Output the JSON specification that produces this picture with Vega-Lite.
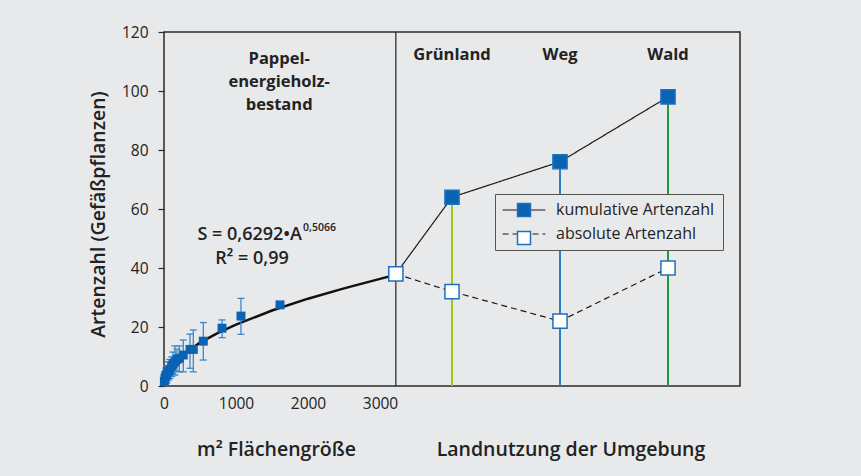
{
  "$schema": "https://vega.github.io/schema/vega-lite/v6.json",
  "width": 576,
  "height": 354,
  "autosize": {"type": "none"},
  "padding": {"left": 164, "top": 32, "right": 121, "bottom": 90},
  "background": "#e8e9eb",
  "config": {
    "view": {"stroke": "#2a2a2a", "strokeWidth": 1.5},
    "font": "Open Sans",
    "axis": {"grid": false, "domain": false, "labelFont": "Open Sans", "labelFontSize": 15.5, "labelColor": "#222222", "titleFont": "Open Sans", "titleColor": "#222222", "tickColor": "#2a2a2a", "tickWidth": 1.2}
  },
  "title": {"text": "Landnutzung der Umgebung", "orient": "bottom", "anchor": "middle", "frame": "group", "dx": 119, "offset": -3, "baseline": "alphabetic", "fontSize": 19.5, "font": "Open Sans", "fontWeight": 600, "color": "#222222"},
  "datasets": {
    "curve": [
      {"A": 0, "S": 0}, {"A": 5, "S": 1.4}, {"A": 10, "S": 2}, {"A": 20, "S": 2.9}, {"A": 50, "S": 4.6},
      {"A": 100, "S": 6.5}, {"A": 200, "S": 9.2}, {"A": 300, "S": 11.3}, {"A": 500, "S": 14.7},
      {"A": 750, "S": 18}, {"A": 1000, "S": 20.8}, {"A": 1500, "S": 25.6}, {"A": 2000, "S": 29.6},
      {"A": 2500, "S": 33.1}, {"A": 3000, "S": 36.3}, {"A": 3220, "S": 37.7}
    ],
    "cluster": [
      {"A": 5, "S": 1.5, "lo": 0.5, "hi": 3},
      {"A": 14, "S": 2.6, "lo": 0.8, "hi": 4.5},
      {"A": 25, "S": 3.5, "lo": 1.5, "hi": 6},
      {"A": 40, "S": 4, "lo": 1, "hi": 7},
      {"A": 60, "S": 4.9, "lo": 2, "hi": 8.2},
      {"A": 80, "S": 5.5, "lo": 2.5, "hi": 9},
      {"A": 107, "S": 6.8, "lo": 3.2, "hi": 9.9},
      {"A": 125, "S": 7.5, "lo": 4, "hi": 11.5},
      {"A": 153, "S": 8.2, "lo": 3.7, "hi": 13.6},
      {"A": 180, "S": 9, "lo": 5, "hi": 12.5},
      {"A": 213, "S": 9.4, "lo": 4.8, "hi": 13.6},
      {"A": 268, "S": 10.5, "lo": 4.8, "hi": 15.6},
      {"A": 361, "S": 12.4, "lo": 6, "hi": 17.6},
      {"A": 407, "S": 12.4, "lo": 4.8, "hi": 19},
      {"A": 546, "S": 15.2, "lo": 8.8, "hi": 21.5},
      {"A": 806, "S": 19.6, "lo": 16.4, "hi": 22.4},
      {"A": 1069, "S": 23.7, "lo": 17.5, "hi": 29.7},
      {"A": 1611, "S": 27.5, "lo": 26.9, "hi": 28.1}
    ],
    "linien": [
      {"A": 3220, "S": 38, "Reihe": "kumulative Artenzahl"},
      {"A": 4000, "S": 64, "Reihe": "kumulative Artenzahl"},
      {"A": 5500, "S": 76, "Reihe": "kumulative Artenzahl"},
      {"A": 7000, "S": 98, "Reihe": "kumulative Artenzahl"},
      {"A": 3220, "S": 38, "Reihe": "absolute Artenzahl"},
      {"A": 4000, "S": 32, "Reihe": "absolute Artenzahl"},
      {"A": 5500, "S": 22, "Reihe": "absolute Artenzahl"},
      {"A": 7000, "S": 40, "Reihe": "absolute Artenzahl"}
    ],
    "quadrate": [
      {"A": 3220, "S": 38, "Serie": "absolute Artenzahl"},
      {"A": 4000, "S": 32, "Serie": "absolute Artenzahl"},
      {"A": 5500, "S": 22, "Serie": "absolute Artenzahl"},
      {"A": 7000, "S": 40, "Serie": "absolute Artenzahl"},
      {"A": 4000, "S": 64, "Serie": "kumulative Artenzahl"},
      {"A": 5500, "S": 76, "Serie": "kumulative Artenzahl"},
      {"A": 7000, "S": 98, "Serie": "kumulative Artenzahl"}
    ],
    "sites": [
      {"Nutzung": "Grünland", "A": 4000, "S": 64},
      {"Nutzung": "Weg", "A": 5500, "S": 76},
      {"Nutzung": "Wald", "A": 7000, "S": 98}
    ]
  },
  "layer": [
    {
      "data": {"name": "curve"},
      "mark": {"type": "line", "color": "#111111", "strokeWidth": 2.5},
      "encoding": {
        "x": {"field": "A", "type": "quantitative",
          "scale": {"domain": [0, 8000], "nice": false, "zero": false},
          "axis": {"values": [0, 1000, 2000, 3000], "format": "d", "ticks": false, "labelPadding": 10, "labelFlush": false,
            "title": "m² Flächengröße", "titleX": 112, "titleY": 69, "titleBaseline": "alphabetic", "titleAlign": "center",
            "titleFontSize": 19.5, "titleFontWeight": 600}},
        "y": {"field": "S", "type": "quantitative",
          "scale": {"domain": [0, 120], "nice": false},
          "axis": {"values": [0, 20, 40, 60, 80, 100, 120], "tickSize": 6, "labelPadding": 10,
            "title": "Artenzahl (Gefäßpflanzen)", "titleFontSize": 19.5, "titleFontWeight": 600,
            "titleX": -66, "titleY": 182, "titleAngle": -90, "titleAlign": "center", "titleBaseline": "middle"}}
      }
    },
    {
      "data": {"values": [{"A": 3220}]},
      "mark": {"type": "rule", "color": "#222222", "strokeWidth": 1.2},
      "encoding": {"x": {"field": "A", "type": "quantitative"}}
    },
    {
      "data": {"name": "sites"},
      "mark": {"type": "rule", "strokeWidth": 2},
      "encoding": {
        "x": {"field": "A", "type": "quantitative"},
        "y": {"field": "S", "type": "quantitative"},
        "y2": {"datum": 0},
        "color": {"field": "Nutzung", "type": "nominal",
          "scale": {"domain": ["Grünland", "Weg", "Wald"], "range": ["#a6c31c", "#2f7fc5", "#1e9a3e"]},
          "legend": null}
      }
    },
    {
      "data": {"name": "linien"},
      "mark": {"type": "line", "color": "#1a1a1a", "strokeWidth": 1.2},
      "encoding": {
        "x": {"field": "A", "type": "quantitative"},
        "y": {"field": "S", "type": "quantitative"},
        "strokeDash": {"field": "Reihe", "type": "nominal", "sort": "descending",
          "scale": {"range": [[1, 0], [6, 4]]},
          "legend": {"orient": "none", "legendX": 331, "legendY": 162, "title": null, "direction": "vertical",
            "symbolType": "M-3.3,0H3.3", "symbolSize": 169, "symbolStrokeColor": "#1a1a1a", "symbolStrokeWidth": 1.2,
            "symbolOffset": 13, "labelFont": "Open Sans", "labelFontSize": 16, "labelColor": "#222222",
            "labelOffset": 24, "labelLimit": 300, "padding": 8, "rowPadding": 8,
            "strokeColor": "#555555", "fillColor": "#e8e9eb", "zindex": 1}}
      }
    },
    {
      "data": {"name": "cluster"},
      "mark": {"type": "rule", "color": "#3b87c9", "strokeWidth": 1.3},
      "encoding": {
        "x": {"field": "A", "type": "quantitative"},
        "y": {"field": "lo", "type": "quantitative"},
        "y2": {"field": "hi"}
      }
    },
    {
      "data": {"name": "cluster"},
      "transform": [{"fold": ["lo", "hi"], "as": ["Grenze", "Wert"]}],
      "mark": {"type": "tick", "orient": "horizontal", "color": "#3b87c9", "size": 7, "thickness": 1.3, "opacity": 1},
      "encoding": {
        "x": {"field": "A", "type": "quantitative"},
        "y": {"field": "Wert", "type": "quantitative"}
      }
    },
    {
      "data": {"name": "cluster"},
      "mark": {"type": "point", "shape": "square", "filled": true, "size": 80, "color": "#0a62b3", "opacity": 1},
      "encoding": {
        "x": {"field": "A", "type": "quantitative"},
        "y": {"field": "S", "type": "quantitative"}
      }
    },
    {
      "data": {"name": "quadrate"},
      "mark": {"type": "point", "shape": "square", "filled": true, "size": 200, "stroke": "#1f6fbe", "strokeWidth": 1.5, "opacity": 1},
      "encoding": {
        "x": {"field": "A", "type": "quantitative"},
        "y": {"field": "S", "type": "quantitative"},
        "fill": {"field": "Serie", "type": "nominal", "sort": "descending",
          "scale": {"range": ["#0a62b3", "#ffffff"]},
          "legend": {"orient": "none", "legendX": 331, "legendY": 162, "title": null, "direction": "vertical",
            "symbolType": "M-1,-1H1V1H-1Z", "symbolSize": 169, "symbolStrokeColor": "#1f6fbe", "symbolStrokeWidth": 1.5,
            "symbolOpacity": 1, "symbolOffset": 13, "labelFont": "Open Sans", "labelFontSize": 16,
            "labelExpr": "''", "labelOffset": 24, "labelLimit": 300, "padding": 8, "rowPadding": 8, "zindex": 2}}
      }
    },
    {
      "data": {"name": "sites"},
      "mark": {"type": "text", "font": "Open Sans", "fontSize": 16.5, "fontWeight": "bold", "color": "#222222", "align": "center", "baseline": "alphabetic"},
      "encoding": {
        "x": {"field": "A", "type": "quantitative"},
        "y": {"datum": 110.5},
        "text": {"field": "Nutzung"}
      }
    },
    {
      "data": {"values": [{"Text": "Pappel-\nenergieholz-\nbestand", "A": 1600, "S": 110.8}]},
      "mark": {"type": "text", "lineBreak": "\n", "lineHeight": 23, "font": "Open Sans", "fontSize": 16.5, "fontWeight": "bold", "color": "#222222", "align": "center", "baseline": "middle"},
      "encoding": {
        "x": {"field": "A", "type": "quantitative"},
        "y": {"field": "S", "type": "quantitative"},
        "text": {"field": "Text"}
      }
    },
    {
      "data": {"values": [{"Text": "S = 0,6292•A", "A": 1917, "S": 49.5}]},
      "mark": {"type": "text", "font": "Open Sans", "fontSize": 18, "fontWeight": 600, "color": "#222222", "align": "right", "baseline": "alphabetic"},
      "encoding": {
        "x": {"field": "A", "type": "quantitative"},
        "y": {"field": "S", "type": "quantitative"},
        "text": {"field": "Text"}
      }
    },
    {
      "data": {"values": [{"Text": "0,5066", "A": 1931, "S": 52.6}]},
      "mark": {"type": "text", "font": "Open Sans", "fontSize": 10.5, "fontWeight": 600, "color": "#222222", "align": "left", "baseline": "alphabetic"},
      "encoding": {
        "x": {"field": "A", "type": "quantitative"},
        "y": {"field": "S", "type": "quantitative"},
        "text": {"field": "Text"}
      }
    },
    {
      "data": {"values": [{"Text": "R² = 0,99", "A": 1222, "S": 41.3}]},
      "mark": {"type": "text", "font": "Open Sans", "fontSize": 18, "fontWeight": 600, "color": "#222222", "align": "center", "baseline": "alphabetic"},
      "encoding": {
        "x": {"field": "A", "type": "quantitative"},
        "y": {"field": "S", "type": "quantitative"},
        "text": {"field": "Text"}
      }
    }
  ]
}
